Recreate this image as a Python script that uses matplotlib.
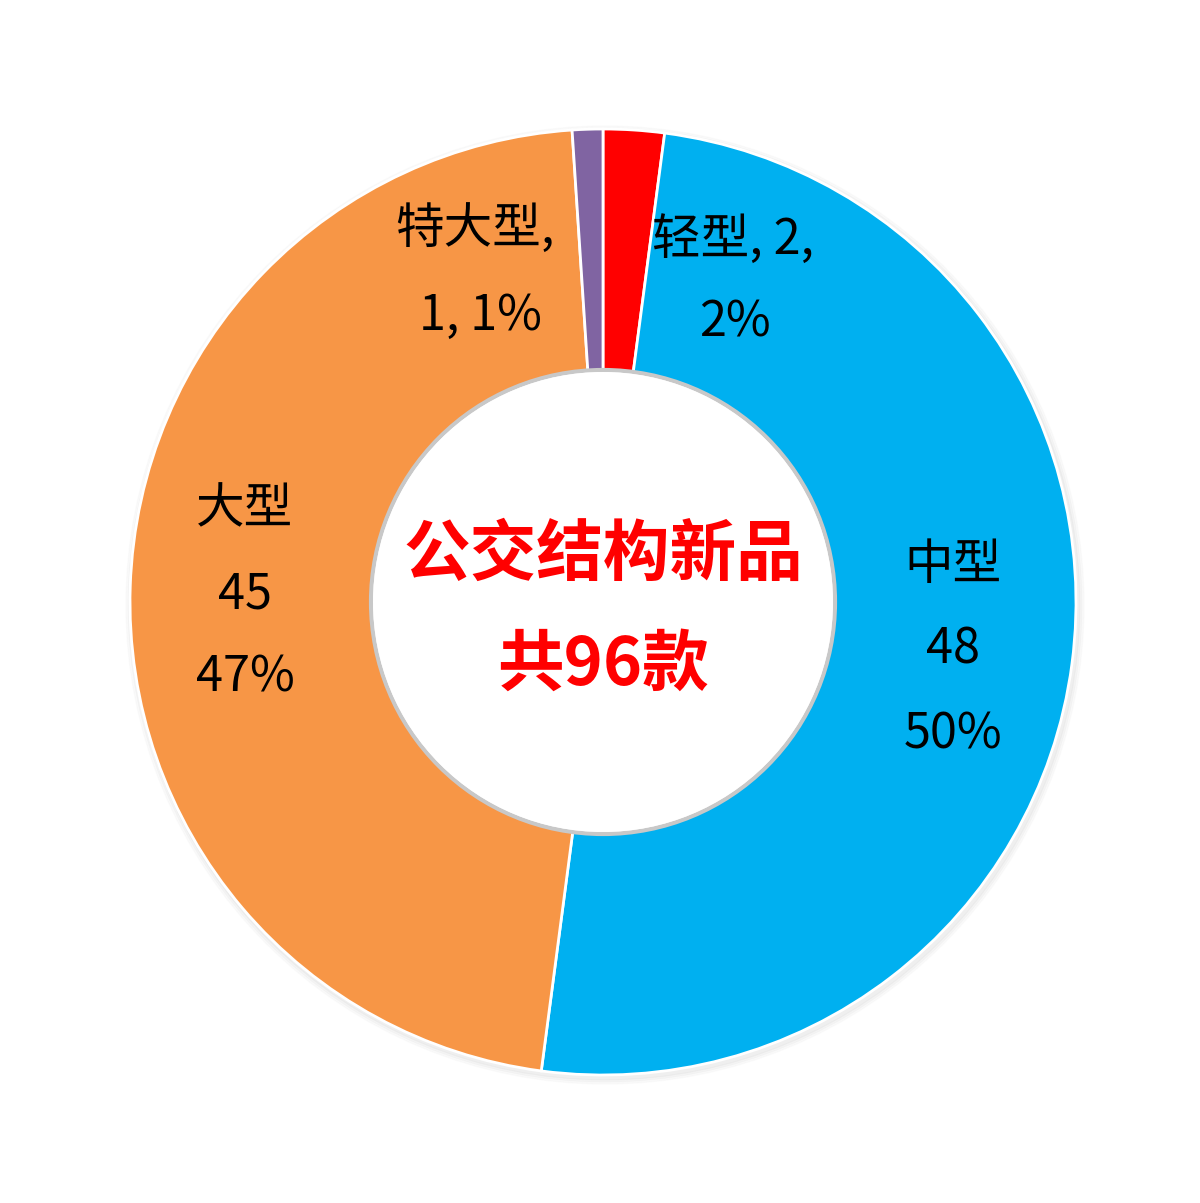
import matplotlib.pyplot as plt
from matplotlib.patches import Circle

plt.rcParams['font.family'] = ['Noto Sans CJK SC', 'DejaVu Sans']

categories = ['轻型', '中型', '大型', '特大型']
values = [2, 48, 45, 1]
colors = ['#FF0000', '#00B0F0', '#F79646', '#8064A2']
total = sum(values)

fig = plt.figure(figsize=(12, 12.03), dpi=100)
ax = fig.add_axes([0, 0, 1, 1])
ax.set_xlim(0, 1200)
ax.set_ylim(0, 1203)
ax.axis('off')

cx, cy = 603, 1203 - 602
r_out, r_in = 473, 231

# soft shadow around outer edge
for i, a in enumerate([0.05, 0.04, 0.03]):
    ax.add_patch(Circle((cx + 2, cy - 3), r_out + 2 + i * 2, color='#888888', alpha=a, zorder=0))

ax.pie(values, colors=colors, startangle=90, counterclock=False,
       radius=r_out, center=(cx, cy),
       wedgeprops=dict(width=r_out - r_in, edgecolor='white', linewidth=2))
ax.set_xlim(0, 1200)
ax.set_ylim(0, 1203)
ax.set_aspect('auto')

# inner shadow ring
ax.add_patch(Circle((cx, cy), r_in + 1, facecolor='none', edgecolor='#c8c8c8', linewidth=3, zorder=3))
ax.add_patch(Circle((cx, cy), r_in - 1, facecolor='white', edgecolor='none', zorder=3))

pct = [round(v / total * 100) for v in values]
lab_fs = 35
def y(p):
    return 1203 - p

ax.text(475, y(230), f'{categories[3]},', ha='center', va='center', fontsize=lab_fs, zorder=5)
ax.text(480, y(316), f'{values[3]}, {pct[3]}%', ha='center', va='center', fontsize=lab_fs, zorder=5)
ax.text(733, y(240), f'{categories[0]}, {values[0]},', ha='center', va='center', fontsize=lab_fs, zorder=5)
ax.text(735, y(323), f'{pct[0]}%', ha='center', va='center', fontsize=lab_fs, zorder=5)
for i, yy in zip([1, 2], [(953, [565, 650, 735]), (245, [510, 595, 678])]):
    x0, ys = yy
    ax.text(x0, y(ys[0]), categories[i], ha='center', va='center', fontsize=lab_fs, zorder=5)
    ax.text(x0, y(ys[1]), str(values[i]), ha='center', va='center', fontsize=lab_fs, zorder=5)
    ax.text(x0, y(ys[2]), f'{pct[i]}%', ha='center', va='center', fontsize=lab_fs, zorder=5)

ax.text(cx, y(555), '公交结构新品', ha='center', va='center', fontsize=48,
        fontweight='bold', color='#FF0000', zorder=5)
ax.text(cx, y(665), f'共{total}款', ha='center', va='center', fontsize=48,
        fontweight='bold', color='#FF0000', zorder=5)

fig.savefig('out.png', dpi=100, facecolor='white')
